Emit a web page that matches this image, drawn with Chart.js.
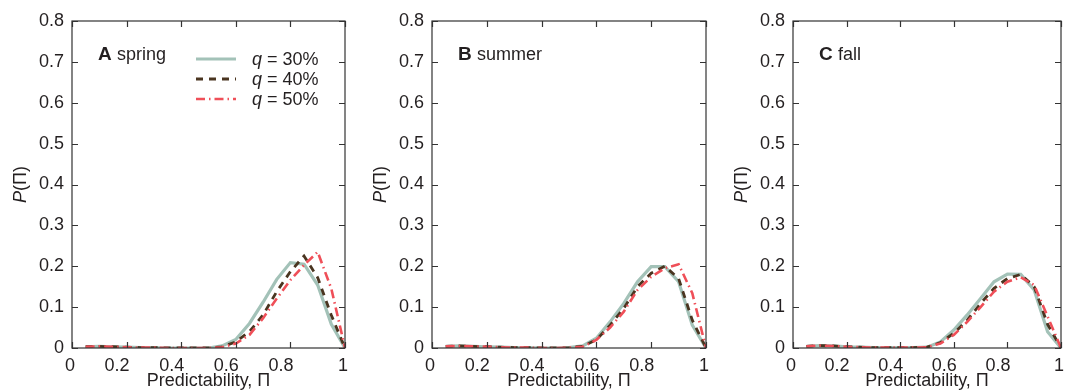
<!DOCTYPE html>
<html>
<head>
<meta charset="utf-8">
<script src="https://cdn.jsdelivr.net/npm/chart.js@4.4.0/dist/chart.umd.min.js"></script>
<style>
  html, body { margin: 0; padding: 0; background: #fff; }
  body { width: 1068px; height: 392px; position: relative; overflow: hidden; }
  .panel { position: absolute; top: 0; }
</style>
</head>
<body>
<div class="panel" style="left:0px"><canvas id="chartA" width="360" height="392"></canvas></div>
<div class="panel" style="left:360px"><canvas id="chartB" width="360" height="392"></canvas></div>
<div class="panel" style="left:716px"><canvas id="chartC" width="352" height="392"></canvas></div>
<script>
// bin centres of the predictability histogram
const xValues = [0.05, 0.1, 0.15, 0.2, 0.25, 0.3, 0.35, 0.4, 0.45, 0.5,
                 0.55, 0.6, 0.65, 0.7, 0.75, 0.8, 0.85, 0.9, 0.95, 1.0];

const xTickLabels = ['0', '0.2', '0.4', '0.6', '0.8', '1'];
const yTickLabels = ['0', '0.1', '0.2', '0.3', '0.4', '0.5', '0.6', '0.7', '0.8'];
const seriesNames = ['30%', '40%', '50%'];

// A spring
const springQ30 = [0.003, 0.004, 0.003, 0.002, 0.001, 0.001, 0, 0, 0, 0,
                   0.005, 0.021, 0.06, 0.112, 0.168, 0.209, 0.205, 0.154, 0.058, 0];
const springQ40 = [0.003, 0.004, 0.003, 0.002, 0.001, 0.001, 0, 0, 0, 0,
                   0.003, 0.015, 0.04, 0.081, 0.138, 0.187, 0.225, 0.172, 0.08, 0];
const springQ50 = [0.003, 0.004, 0.003, 0.002, 0.001, 0.001, 0, 0, 0, 0,
                   0.002, 0.011, 0.032, 0.073, 0.121, 0.166, 0.203, 0.235, 0.145, 0];

// B summer
const summerQ30 = [0.004, 0.005, 0.004, 0.003, 0.002, 0.001, 0.001, 0, 0, 0.001,
                   0.005, 0.024, 0.064, 0.109, 0.162, 0.199, 0.199, 0.162, 0.056, 0];
const summerQ40 = [0.004, 0.005, 0.004, 0.003, 0.002, 0.001, 0.001, 0, 0, 0.001,
                   0.004, 0.02, 0.056, 0.097, 0.15, 0.183, 0.2, 0.17, 0.068, 0];
const summerQ50 = [0.004, 0.005, 0.004, 0.003, 0.002, 0.001, 0.001, 0, 0, 0.001,
                   0.003, 0.02, 0.05, 0.089, 0.142, 0.174, 0.195, 0.205, 0.134, 0];

// C fall
const fallQ30 = [0.004, 0.006, 0.005, 0.003, 0.002, 0.001, 0.001, 0.001, 0.001, 0.002,
                 0.015, 0.044, 0.081, 0.121, 0.162, 0.181, 0.18, 0.142, 0.04, 0];
const fallQ40 = [0.004, 0.006, 0.005, 0.003, 0.002, 0.001, 0.001, 0.001, 0.001, 0.002,
                 0.013, 0.036, 0.068, 0.109, 0.146, 0.17, 0.18, 0.15, 0.058, 0];
const fallQ50 = [0.004, 0.006, 0.005, 0.003, 0.002, 0.001, 0.001, 0.001, 0.001, 0.002,
                 0.011, 0.032, 0.064, 0.1, 0.138, 0.162, 0.173, 0.154, 0.077, 0];

const FONT = '"Liberation Sans", Arial, Helvetica, sans-serif';
const TEXT = '#231f20';
const styles = [
    { color: '#a3c2b8', width: 3.2, dash: [] },
    { color: '#4a3520', width: 2.8, dash: [7, 6] },
    { color: '#ef4f58', width: 2.6, dash: [9, 4, 1.5, 4] }
];

// frame with inward ticks, panel label, y title and legend
const framePlugin = {
    id: 'frame',
    afterDatasetsDraw(chart, args, opts) {
        const { ctx, chartArea: a, scales: { x, y } } = chart;
        ctx.save();
        ctx.strokeStyle = '#333';
        ctx.lineWidth = 1.2;
        ctx.setLineDash([]);
        ctx.strokeRect(a.left, a.top, a.right - a.left, a.bottom - a.top);
        ctx.beginPath();
        x.ticks.forEach(t => {
            const px = Math.round(x.getPixelForValue(t.value)) + 0.5;
            ctx.moveTo(px, a.bottom); ctx.lineTo(px, a.bottom - 6);
            ctx.moveTo(px, a.top); ctx.lineTo(px, a.top + 6);
        });
        y.ticks.forEach(t => {
            const py = Math.round(y.getPixelForValue(t.value)) + 0.5;
            ctx.moveTo(a.left, py); ctx.lineTo(a.left + 6, py);
            ctx.moveTo(a.right, py); ctx.lineTo(a.right - 6, py);
        });
        ctx.stroke();

        ctx.fillStyle = TEXT;
        ctx.textBaseline = 'middle';
        ctx.textAlign = 'left';
        // panel label
        ctx.font = 'bold 19px ' + FONT;
        const lx = a.left + 26, ly = 55;
        ctx.fillText(opts.letter, lx, ly);
        const lw = ctx.measureText(opts.letter + ' ').width;
        ctx.font = '18px ' + FONT;
        ctx.fillText(opts.season, lx + lw, ly);

        // y title P(Π)
        ctx.save();
        ctx.translate(a.left - 51, (a.top + a.bottom) / 2);
        ctx.rotate(-Math.PI / 2);
        ctx.font = 'italic 18px ' + FONT;
        const pw = ctx.measureText('P').width;
        ctx.font = '18px ' + FONT;
        const rest = '(\u03A0)';
        const total = pw + ctx.measureText(rest).width;
        ctx.font = 'italic 18px ' + FONT;
        ctx.fillText('P', -total / 2, 0);
        ctx.font = '18px ' + FONT;
        ctx.fillText(rest, -total / 2 + pw, 0);
        ctx.restore();

        // legend
        if (opts.legend) {
            const sx = a.left + 124, tx = a.left + 180;
            seriesNames.forEach((name, i) => {
                const yy = 59 + i * 20;
                const st = styles[i];
                ctx.beginPath();
                ctx.strokeStyle = st.color;
                ctx.lineWidth = st.width;
                ctx.setLineDash(st.dash);
                ctx.moveTo(sx, yy); ctx.lineTo(sx + 40, yy);
                ctx.stroke();
                ctx.setLineDash([]);
                ctx.fillStyle = TEXT;
                ctx.font = 'italic 18px ' + FONT;
                ctx.fillText('q', tx, yy + 1);
                const qw = ctx.measureText('q').width;
                ctx.font = '18px ' + FONT;
                ctx.fillText(' = ' + name, tx + qw, yy + 1);
            });
        }
        ctx.restore();
    }
};

function makePanel(id, letter, season, series, yWidth, padRight, legend) {
    const datasets = series.map((vals, i) => ({
        label: 'q = ' + seriesNames[i],
        data: xValues.map((xv, k) => ({ x: xv, y: vals[k] })),
        borderColor: styles[i].color,
        borderWidth: styles[i].width,
        borderDash: styles[i].dash,
        pointRadius: 0,
        fill: false,
        tension: 0,
        order: 3 - i
    }));

    new Chart(document.getElementById(id), {
        type: 'line',
        data: { datasets: datasets },
        options: {
            responsive: false,
            animation: false,
            events: [],
            layout: { padding: { top: 21, right: padRight, left: 0, bottom: 0 } },
            plugins: {
                legend: { display: false },
                tooltip: { enabled: false },
                frame: { letter: letter, season: season, legend: legend }
            },
            scales: {
                x: {
                    type: 'linear',
                    min: 0, max: 1,
                    grid: { display: false, drawTicks: false },
                    border: { display: false },
                    ticks: {
                        stepSize: 0.2,
                        align: 'end',
                        labelOffset: 3,
                        padding: 7,
                        maxRotation: 0,
                        color: TEXT,
                        font: { family: FONT, size: 18 },
                        callback: (v, i) => xTickLabels[i]
                    },
                    title: {
                        display: true,
                        text: 'Predictability, \u03A0',
                        color: TEXT,
                        font: { family: FONT, size: 18 },
                        padding: { top: 0, bottom: 0 }
                    },
                    afterFit: s => { s.height = 44; }
                },
                y: {
                    min: 0, max: 0.8,
                    grid: { display: false, drawTicks: false },
                    border: { display: false },
                    ticks: {
                        stepSize: 0.1,
                        padding: 8,
                        color: TEXT,
                        font: { family: FONT, size: 18 },
                        callback: (v, i) => yTickLabels[i]
                    },
                    afterFit: s => { s.width = yWidth; }
                }
            }
        },
        plugins: [framePlugin]
    });
}

makePanel('chartA', 'A', 'spring', [springQ30, springQ40, springQ50], 72, 15, true);
makePanel('chartB', 'B', 'summer', [summerQ30, summerQ40, summerQ50], 72, 14, false);
makePanel('chartC', 'C', 'fall', [fallQ30, fallQ40, fallQ50], 77, 2, false);
</script>
</body>
</html>
